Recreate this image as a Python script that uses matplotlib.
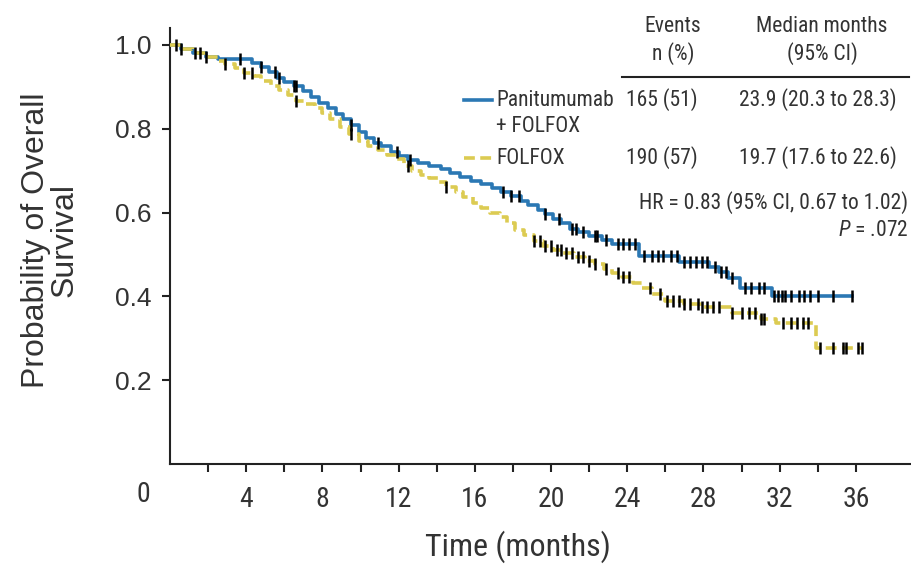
import numpy as np
import matplotlib
matplotlib.use("Agg")
import matplotlib.pyplot as plt
from matplotlib.lines import Line2D

# ---------------- data ----------------
pan_times = [0, 0.6, 1.2, 1.9, 2.5, 4.3, 4.8, 5.2, 5.6, 6.0, 6.5, 7.0, 7.4, 7.8, 8.3, 8.7,
             9.1, 9.5, 9.9, 10.3, 10.7, 11.1, 11.6, 12.0, 12.5, 13.0, 13.6, 14.2, 14.7,
             15.2, 15.8, 16.3, 16.9, 17.4, 17.9, 18.4, 18.8, 19.3, 19.7, 20.1, 20.5, 21.0,
             21.4, 22.0, 22.7, 23.2, 24.6, 26.7, 28.3, 28.8, 29.3, 29.9, 31.6]
pan_surv = [1.0, 0.99, 0.982, 0.972, 0.967, 0.958, 0.948, 0.935, 0.922, 0.912, 0.902, 0.89,
            0.875, 0.862, 0.85, 0.836, 0.823, 0.81, 0.792, 0.777, 0.767, 0.758, 0.745, 0.735,
            0.725, 0.718, 0.712, 0.705, 0.695, 0.685, 0.676, 0.668, 0.658, 0.648, 0.64, 0.628,
            0.618, 0.607, 0.597, 0.585, 0.574, 0.562, 0.553, 0.543, 0.535, 0.526, 0.497,
            0.482, 0.47, 0.458, 0.443, 0.419, 0.40]
pan_end = 35.8
pan_censor = [0.3, 0.6, 1.3, 1.6, 3.7, 4.8, 5.5, 5.7, 6.5, 6.6, 9.5, 10.9, 11.9, 12.6,
              17.5, 17.9, 18.3, 19.7, 20.4, 21.1, 21.3, 21.7, 22.3, 22.4, 22.9, 23.5, 23.8,
              24.1, 24.4, 24.9, 25.3, 25.6, 25.9, 26.3, 26.6, 27.0, 27.3, 27.6, 27.9, 28.2,
              28.6, 28.9, 29.2, 29.5, 30.2, 30.5, 30.9, 31.2, 31.7, 31.9, 32.1, 32.3, 32.6,
              33.0, 33.3, 33.6, 34.0, 34.8, 35.8]

fol_times = [0, 0.6, 1.2, 1.9, 2.5, 2.9, 3.4, 3.9, 4.4, 4.8, 5.3, 5.7, 6.2, 6.6, 7.1, 7.6,
             8.0, 8.4, 8.9, 9.4, 9.9, 10.4, 10.9, 11.4, 11.9, 12.3, 12.7, 13.2, 13.6, 14.1,
             14.5, 15.0, 15.4, 15.9, 16.3, 16.8, 17.3, 17.7, 18.1, 18.6, 19.1, 19.6, 20.1,
             20.6, 21.2, 21.8, 22.3, 22.8, 23.2, 23.7, 24.3, 24.8, 25.3, 26.0, 27.0, 27.8,
             29.5, 31.0, 31.8, 33.9]
fol_surv = [1.0, 0.99, 0.982, 0.972, 0.962, 0.955, 0.945, 0.934, 0.925, 0.915, 0.903, 0.893,
            0.88, 0.867, 0.858, 0.85, 0.838, 0.823, 0.805, 0.788, 0.772, 0.758, 0.75, 0.738,
            0.727, 0.712, 0.70, 0.69, 0.682, 0.672, 0.662, 0.65, 0.638, 0.622, 0.612, 0.598,
            0.59, 0.575, 0.558, 0.546, 0.533, 0.521, 0.51, 0.503, 0.494, 0.485, 0.477, 0.465,
            0.455, 0.447, 0.432, 0.42, 0.405, 0.39, 0.382, 0.375, 0.36, 0.345, 0.336, 0.276]
fol_end = 36.3
fol_censor = [1.9, 2.9, 3.9, 4.3, 6.6, 9.5, 12.5, 14.5, 19.1, 19.4, 19.7, 20.0, 20.3, 20.5,
              20.8, 21.1, 21.4, 21.7, 22.0, 22.3, 22.9, 23.5, 23.8, 24.1, 25.2, 25.7, 26.1,
              26.4, 26.7, 27.0, 27.3, 27.7, 27.9, 28.2, 28.5, 28.8, 29.5, 30.0, 30.4, 30.7,
              31.0, 31.2, 32.2, 32.6, 32.9, 33.2, 33.5, 34.1, 34.8, 35.3, 35.5, 36.1, 36.3]

x_major = [4, 8, 12, 16, 20, 24, 28, 32, 36]
x_minor = [2, 6, 10, 14, 18, 22, 26, 30, 34]
y_ticks = [0.2, 0.4, 0.6, 0.8, 1.0]
y_labels = ["0.2", "0.4", "0.6", "0.8", "1.0"]

arm_names = ["Panitumumab\n+ FOLFOX", "FOLFOX"]
events = ["165 (51)", "190 (57)"]
medians = ["23.9 (20.3 to 28.3)", "19.7 (17.6 to 22.6)"]

# ---------------- style ----------------
W, H = 911, 566
NARROW = ["Roboto Condensed", "Archivo Narrow", "DejaVu Sans"]
REG = ["Liberation Sans", "Arimo", "DejaVu Sans"]
plt.rcParams["mathtext.fontset"] = "custom"
plt.rcParams["mathtext.it"] = "Roboto Condensed:italic"
plt.rcParams["mathtext.rm"] = "Roboto Condensed"

BLUE = "#2b78b4"
YELLOW = "#dccb52"
TC = "#333333"

fig = plt.figure(figsize=(W / 100, H / 100), dpi=100)
ax = fig.add_axes([170 / W, (H - 464) / H, (W - 170) / W, (464 - 28) / H])

def px(x, y):
    return x / W, 1 - y / H

def step_draw(times, surv, end, color, ls, censor):
    t = list(times) + [end]
    s = list(surv) + [surv[-1]]
    ax.step(t, s, where="post", color=color, lw=2.6, linestyle=ls, zorder=3)
    ta = np.array(times)
    idx = np.searchsorted(ta, np.array(censor), side="right") - 1
    cy = np.array(surv)[idx]
    ax.plot(censor, cy, linestyle="none", marker="|", color="black",
            markersize=8, markeredgewidth=1.8, zorder=4)

step_draw(pan_times, pan_surv, pan_end, BLUE, "-", pan_censor)
step_draw(fol_times, fol_surv, fol_end, YELLOW, (0, (3, 1.5)), fol_censor)

ax.set_xlim(0, (W - 172) / 19)
ax.set_ylim(0, (464 - 28) / 419)
for s in ["top", "right"]:
    ax.spines[s].set_visible(False)
for s in ["left", "bottom"]:
    ax.spines[s].set_linewidth(1.5)
    ax.spines[s].set_color("#222222")

ax.set_xticks(x_major)
ax.set_xticks(x_minor, minor=True)
ax.set_xticklabels([str(v) for v in x_major], fontfamily=NARROW, fontsize=20, color=TC)
ax.set_yticks(y_ticks)
ax.set_yticklabels(y_labels, fontfamily=REG, fontsize=19, color=TC)
ax.tick_params(axis="x", which="both", direction="out", length=6, width=1.5, pad=10,
               color="#222222")
ax.tick_params(axis="y", direction="out", length=6, width=1.5, pad=7, color="#222222")

fig.text(*px(143, 494), "0", ha="center", va="center", fontfamily=NARROW,
         fontsize=20, color=TC)

fig.text(*px(50, 240), "Probability of Overall\nSurvival", rotation=90, ha="center",
         va="center", multialignment="center", fontfamily=REG, fontsize=23,
         color=TC, linespacing=0.95)
fig.text(*px(518, 547), "Time (months)", ha="center", va="center", fontfamily=NARROW,
         fontsize=23, color=TC)

# ---------------- table / legend ----------------
TS = 15.5
fig.text(*px(673, 26), "Events", ha="center", va="center", fontfamily=NARROW, fontsize=TS, color=TC)
fig.text(*px(673, 54), "n (%)", ha="center", va="center", fontfamily=NARROW, fontsize=TS, color=TC)
fig.text(*px(822, 26), "Median months", ha="center", va="center", fontfamily=NARROW, fontsize=TS, color=TC)
fig.text(*px(822, 54), "(95% CI)", ha="center", va="center", fontfamily=NARROW, fontsize=TS, color=TC)
x0, y0 = px(622, 77)
x1, _ = px(909, 77)
fig.add_artist(Line2D([x0, x1], [y0, y0], color="#222222", lw=1.5))

rows_y = [100, 158]
colors = [BLUE, YELLOW]
styles = ["-", (0, (3, 1.5))]
for i in range(2):
    yy = rows_y[i]
    a, b = px(464, yy)
    c, _ = px(492, yy)
    fig.add_artist(Line2D([a, c], [b, b], color=colors[i], lw=2.6, linestyle=styles[i]))
    lines = arm_names[i].split("\n")
    for j, ln in enumerate(lines):
        fig.text(*px(496, yy + 26 * j), ln, ha="left", va="center", fontfamily=NARROW,
                 fontsize=TS, color=TC)
    fig.text(*px(662, yy), events[i], ha="center", va="center", fontfamily=NARROW,
             fontsize=TS, color=TC)
    fig.text(*px(818, yy), medians[i], ha="center", va="center", fontfamily=NARROW,
             fontsize=TS, color=TC)

fig.text(*px(908, 203), "HR = 0.83 (95% CI, 0.67 to 1.02)", ha="right", va="center",
         fontfamily=NARROW, fontsize=TS, color=TC)
fig.text(*px(908, 231), r"$\mathit{P}$ = .072", ha="right", va="center",
         fontfamily=NARROW, fontsize=TS, color=TC)

fig.savefig("out.png", dpi=100)
